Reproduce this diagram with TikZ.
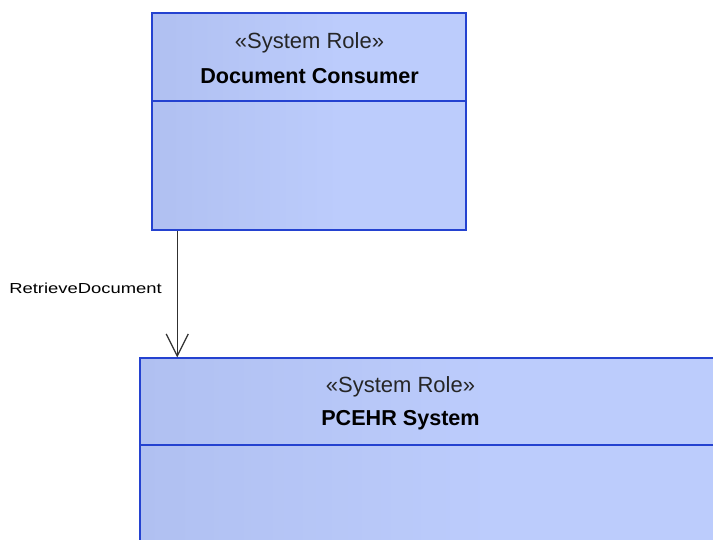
\documentclass[tikz,border=0pt]{standalone}
\usepackage{fontspec}
\setmainfont{Liberation Sans}
\usetikzlibrary{arrows.meta}
\definecolor{shadeL}{HTML}{A6B6E8}
\definecolor{shadeR}{HTML}{BCCCFC}
\definecolor{edgeblue}{HTML}{2442D0}
\definecolor{linegray}{HTML}{303030}
\pgfdeclarehorizontalshading{boxshade}{100bp}{color(0bp)=(shadeL); color(55bp)=(shadeR); color(100bp)=(shadeR)}
\tikzset{
  rolebox/.style={rectangle, draw=edgeblue, line width=1.5pt, shading=boxshade, shading angle=0, inner sep=0pt},
  stereo/.style={font=\fontsize{22}{25}\selectfont, text=black!85, inner sep=0pt},
  rolename/.style={font=\fontsize{21.6}{25}\bfseries\selectfont, inner sep=0pt},
  divider/.style={draw=edgeblue, line width=1.5pt},
  msg/.style={draw=linegray, line width=1.5pt, -{Straight Barb[length=22pt, width=22pt, line width=1.2pt]}},
  msglabel/.style={font=\fontsize{14.5}{17}\selectfont, inner sep=0pt}
}
\begin{document}
\begin{tikzpicture}[x=1pt, y=-1pt]
\useasboundingbox (0,0) rectangle (713,539);
\clip (0,0) rectangle (713,539);
% top box
\node[rolebox, minimum width=314pt, minimum height=217pt] (top) at (309,121.5) {};
\draw[divider] (top.west |- 0,101) coordinate (tdl) -- (top.east |- 0,101) coordinate (tdr);
\node[stereo] (tst) at (309.5,43) {«System Role»};
\node[rolename] (tname) at (309.5,76) {Document Consumer};
% bottom box
\node[rolebox, minimum width=590pt, minimum height=200pt] (bot) at (435,458) {};
\draw[divider] (bot.west |- 0,445) coordinate (bdl) -- (bot.east |- 0,445) coordinate (bdr);
\node[stereo] (bst) at (400.5,387) {«System Role»};
\node[rolename] (bname) at (400.5,420) {PCEHR System};
% connector
\coordinate (ms) at ([xshift=26pt]top.south west);
\draw[msg] (ms) -- (ms |- bot.north);
\node[msglabel, anchor=east] (lbl) at (162,288) {\scalebox{1.27}[1]{RetrieveDocument}};
\end{tikzpicture}
\end{document}
